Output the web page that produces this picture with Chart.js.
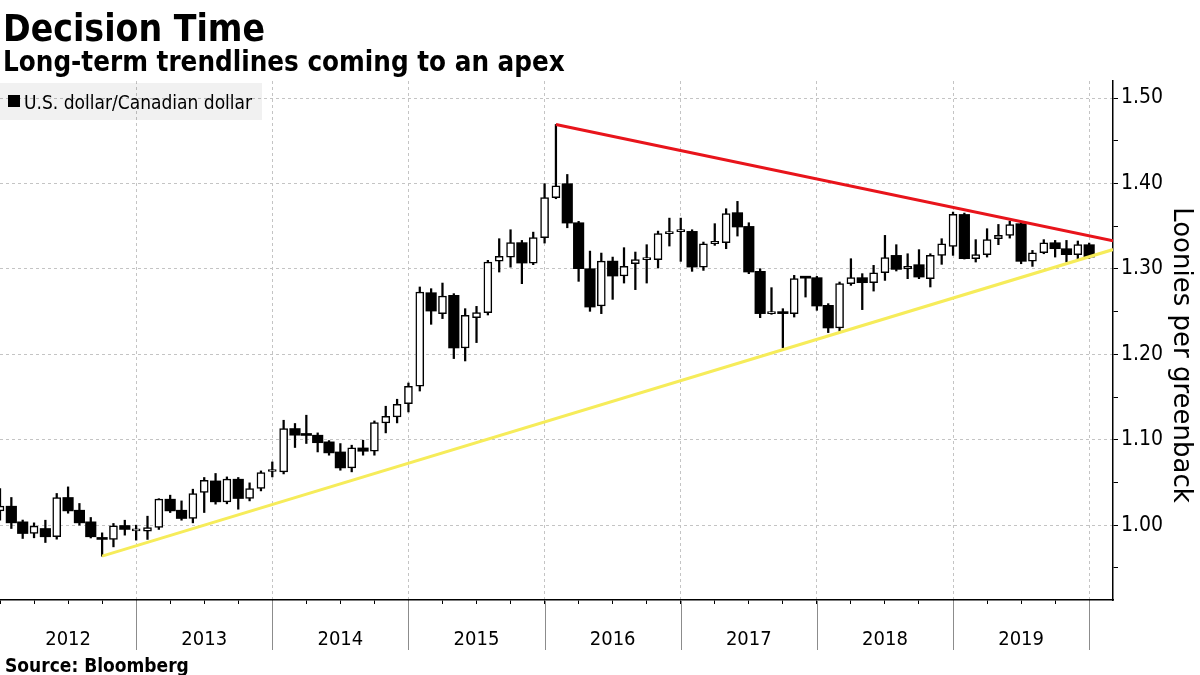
<!DOCTYPE html>
<html>
<head>
<meta charset="utf-8">
<script src="https://cdn.jsdelivr.net/npm/chart.js@4.4.1/dist/chart.umd.min.js"></script>
<style>
  html, body { margin: 0; padding: 0; background: #fff; }
  #wrap { position: relative; width: 1200px; height: 675px; overflow: hidden; background: #fff; }
  #chart { position: absolute; left: 0; top: 0; }
  .txt { position: absolute; white-space: nowrap; color: #000; line-height: 1; }
  #title { left: 3px; top: 7px; font: bold 37px 'DejaVu Sans Condensed', 'DejaVu Sans', sans-serif; font-stretch: condensed; }
  #subtitle { left: 3px; top: 45px; font: bold 27.5px 'DejaVu Sans Condensed', 'DejaVu Sans', sans-serif; font-stretch: condensed; }
  #legend { position: absolute; left: 0; top: 83px; width: 262px; height: 37px; background: rgba(0,0,0,0.055); }
  #legend .sw { position: absolute; left: 8px; top: 12px; width: 12px; height: 12px; background: #000; }
  #legend .lt { left: 24px; top: 8px; font: 19px 'DejaVu Sans Condensed', 'DejaVu Sans', sans-serif; font-stretch: condensed; }
  #ytitle { position: absolute; left: 1170px; top: 355px; transform: translateY(-50%); writing-mode: vertical-rl; font: 26px 'DejaVu Sans', sans-serif; line-height: 26px; white-space: nowrap; color: #000; }
  #source { left: 5px; top: 654px; font: bold 19px 'DejaVu Sans Condensed', 'DejaVu Sans', sans-serif; font-stretch: condensed; }
</style>
</head>
<body>
<div id="wrap">
  <canvas id="chart" width="1200" height="675"></canvas>
  <div class="txt" id="title">Decision Time</div>
  <div class="txt" id="subtitle">Long-term trendlines coming to an apex</div>
  <div id="legend"><div class="sw"></div><div class="txt lt">U.S. dollar/Canadian dollar</div></div>
  <div id="ytitle">Loonies per greenback</div>
  <div class="txt" id="source">Source: Bloomberg</div>
</div>
<script>
// Monthly candles (month-end placement), Dec 2011 .. Dec 2019
const months = [
  '2011-12',
  '2012-01','2012-02','2012-03','2012-04','2012-05','2012-06','2012-07','2012-08','2012-09','2012-10','2012-11','2012-12',
  '2013-01','2013-02','2013-03','2013-04','2013-05','2013-06','2013-07','2013-08','2013-09','2013-10','2013-11','2013-12',
  '2014-01','2014-02','2014-03','2014-04','2014-05','2014-06','2014-07','2014-08','2014-09','2014-10','2014-11','2014-12',
  '2015-01','2015-02','2015-03','2015-04','2015-05','2015-06','2015-07','2015-08','2015-09','2015-10','2015-11','2015-12',
  '2016-01','2016-02','2016-03','2016-04','2016-05','2016-06','2016-07','2016-08','2016-09','2016-10','2016-11','2016-12',
  '2017-01','2017-02','2017-03','2017-04','2017-05','2017-06','2017-07','2017-08','2017-09','2017-10','2017-11','2017-12',
  '2018-01','2018-02','2018-03','2018-04','2018-05','2018-06','2018-07','2018-08','2018-09','2018-10','2018-11','2018-12',
  '2019-01','2019-02','2019-03','2019-04','2019-05','2019-06','2019-07','2019-08','2019-09','2019-10','2019-11','2019-12'
];
const open = [
  1.0167,
  1.0222,1.0039,0.9902,0.9961,0.9864,1.0324,1.0175,1.0039,0.9856,0.9833,0.9996,0.9934,
  0.9930,0.9973,1.0304,1.0175,1.0078,1.0382,1.0518,1.0273,1.0538,1.0312,1.0429,1.0628,
  1.0624,1.1131,1.1056,1.1053,1.0975,1.0857,1.0670,1.0904,1.0865,1.1196,1.1267,1.1423,
  1.1626,1.2721,1.2476,1.2690,1.2074,1.2429,1.2488,1.3091,1.3138,1.3307,1.3068,1.3365,
  1.3833,1.3997,1.3540,1.3002,1.2565,1.3091,1.2916,1.3061,1.3108,1.3108,1.3412,1.3435,
  1.3439,1.3021,1.3294,1.3306,1.3658,1.3497,1.2971,1.2476,1.2480,1.2476,1.2897,1.2897,
  1.2573,1.2308,1.2827,1.2897,1.2838,1.2955,1.3158,1.2998,1.3049,1.2885,1.3158,1.3263,
  1.3637,1.3119,1.3166,1.3353,1.3392,1.3529,1.3091,1.3189,1.3306,1.3236,1.3166,1.3283
];
const high = [
  1.0429,
  1.0324,1.0060,1.0027,1.0058,1.0371,1.0448,1.0254,1.0090,0.9910,1.0020,1.0058,1.0000,
  1.0105,1.0310,1.0351,1.0284,1.0421,1.0558,1.0605,1.0565,1.0558,1.0495,1.0635,1.0740,
  1.1228,1.1190,1.1287,1.1080,1.0990,1.0955,1.0936,1.0994,1.1220,1.1392,1.1474,1.1664,
  1.2788,1.2768,1.2834,1.2710,1.2534,1.2561,1.3100,1.3353,1.3458,1.3333,1.3430,1.3997,
  1.4690,1.4105,1.3556,1.3208,1.3185,1.3138,1.3248,1.3197,1.3283,1.3442,1.3594,1.3594,
  1.3458,1.3314,1.3529,1.3704,1.3790,1.3540,1.3002,1.2780,1.2534,1.2924,1.2912,1.2912,
  1.2593,1.2846,1.3119,1.2944,1.3041,1.3392,1.3283,1.3177,1.3225,1.3177,1.3353,1.3665,
  1.3653,1.3342,1.3470,1.3520,1.3559,1.3547,1.3216,1.3342,1.3333,1.3333,1.3326,1.3302
];
const low = [
  1.0058,
  0.9961,0.9844,0.9852,0.9797,0.9836,1.0140,1.0000,0.9850,0.9637,0.9746,0.9883,0.9825,
  0.9833,0.9950,1.0148,1.0058,1.0027,1.0148,1.0246,1.0250,1.0187,1.0284,1.0401,1.0565,
  1.0600,1.0909,1.0956,1.0857,1.0819,1.0643,1.0624,1.0819,1.0819,1.1080,1.1197,1.1325,
  1.1570,1.2351,1.2418,1.1950,1.1922,1.2137,1.2460,1.2963,1.3020,1.2827,1.3049,1.3302,
  1.3821,1.3481,1.2854,1.2503,1.2476,1.2643,1.2834,1.2757,1.2834,1.3010,1.3267,1.3088,
  1.2971,1.2982,1.3275,1.3236,1.3384,1.2944,1.2429,1.2468,1.2078,1.2436,1.2670,1.2515,
  1.2254,1.2269,1.2807,1.2523,1.2740,1.2865,1.2975,1.2885,1.2885,1.2788,1.3053,1.3158,
  1.3115,1.3080,1.3138,1.3283,1.3360,1.3060,1.3029,1.3177,1.3138,1.3080,1.3119,1.3123
];
const close = [
  1.0222,
  1.0027,0.9902,0.9988,0.9864,1.0324,1.0167,1.0027,0.9864,0.9833,0.9992,0.9950,0.9938,
  0.9973,1.0304,1.0167,1.0078,1.0371,1.0526,1.0273,1.0538,1.0312,1.0429,1.0616,1.0632,
  1.1131,1.1053,1.1050,1.0965,1.0846,1.0670,1.0904,1.0865,1.1201,1.1275,1.1415,1.1626,
  1.2729,1.2506,1.2682,1.2074,1.2456,1.2488,1.3080,1.3146,1.3307,1.3068,1.3365,1.3833,
  1.3973,1.3536,1.3002,1.2553,1.3091,1.2916,1.3029,1.3108,1.3116,1.3412,1.3435,1.3439,
  1.3021,1.3294,1.3322,1.3646,1.3490,1.2963,1.2476,1.2480,1.2476,1.2885,1.2891,1.2565,
  1.2308,1.2827,1.2897,1.2838,1.2955,1.3131,1.2994,1.3029,1.2904,1.3158,1.3294,1.3637,
  1.3119,1.3166,1.3342,1.3392,1.3517,1.3088,1.3189,1.3306,1.3236,1.3166,1.3283,1.3138
];
// Year labels shown between year separators
const yearLabels = ['2012','2013','2014','2015','2016','2017','2018','2019'];
// Trendlines: x in months since Dec 2011 month-end, y in CAD per USD
const resistanceX = [49, 98.1];
const resistanceY = [1.469, 1.3330];
const supportX = [9, 98.1];
const supportY = [0.9637, 1.3226];

const wickData = months.map((m, i) => ({ x: i, y: [low[i], high[i]] }));
const downData = [];
const upData = [];
months.forEach((m, i) => {
  if (close[i] < open[i]) downData.push({ x: i, y: [close[i], open[i]] });
  else upData.push({ x: i, y: [open[i], close[i]] });
});
const resistanceData = resistanceX.map((x, i) => ({ x, y: resistanceY[i] }));
const supportData = supportX.map((x, i) => ({ x, y: supportY[i] }));

const yearSeparators = {
  id: 'yearSeparators',
  afterDraw(chart) {
    const xs = chart.scales.x;
    const ctx = chart.ctx;
    const top = chart.chartArea.bottom;
    ctx.save();
    ctx.strokeStyle = '#8c8c8c';
    ctx.lineWidth = 1;
    for (let k = 1; k <= yearLabels.length; k++) {
      const px = Math.round(xs.getPixelForValue(12 * k)) + 0.5;
      ctx.beginPath();
      ctx.moveTo(px, top + 1);
      ctx.lineTo(px, 650);
      ctx.stroke();
    }
    ctx.restore();
  }
};

const condensed = "'DejaVu Sans Condensed', 'DejaVu Sans', sans-serif";

new Chart(document.getElementById('chart'), {
  type: 'bar',
  data: {
    datasets: [
      { type: 'line', label: 'Resistance', data: resistanceData, borderColor: '#e8141b', borderWidth: 3, pointRadius: 0, order: 0 },
      { type: 'line', label: 'Support', data: supportData, borderColor: '#f6ec5a', borderWidth: 3, pointRadius: 0, order: 0 },
      { label: 'Up', data: upData, backgroundColor: '#ffffff', borderColor: '#000000', borderWidth: 1.5, borderSkipped: false, barThickness: 8, grouped: false, minBarLength: 2, order: 1 },
      { label: 'Down', data: downData, backgroundColor: '#000000', borderWidth: 0, barThickness: 10.5, grouped: false, minBarLength: 2, order: 2 },
      { label: 'Wick', data: wickData, backgroundColor: '#000000', borderWidth: 0, barThickness: 1.6, grouped: false, order: 3 }
    ]
  },
  options: {
    responsive: false,
    animation: false,
    devicePixelRatio: 1,
    layout: { autoPadding: false, padding: { top: 81, left: 0, right: 0, bottom: 0 } },
    plugins: { legend: { display: false }, tooltip: { enabled: false }, title: { display: false } },
    scales: {
      x: {
        type: 'linear',
        position: 'bottom',
        offset: false,
        min: 0,
        max: 98.1,
        afterFit: (s) => { s.height = 75; s.paddingLeft = 0; s.paddingRight = 0; },
        ticks: {
          stepSize: 3,
          includeBounds: false,
          autoSkip: false,
          maxRotation: 0,
          padding: 24,
          color: '#000',
          font: { family: condensed, size: 20 },
          callback: (v) => (v % 12 === 6 ? yearLabels[(v - 6) / 12] : '')
        },
        grid: {
          offset: false,
          drawOnChartArea: true,
          color: (c) => (c.tick && c.tick.value % 12 === 0 && c.tick.value > 0) ? '#c4c4c4' : 'rgba(0,0,0,0)',
          lineWidth: 1,
          tickColor: '#000',
          tickLength: 4,
          tickWidth: 1,
          tickBorderDash: []
        },
        border: { display: true, color: '#000', width: 1.5, dash: [3, 3] }
      },
      y: {
        type: 'linear',
        position: 'right',
        min: 0.9124,
        max: 1.5199,
        afterFit: (s) => { s.width = 87; },
        ticks: {
          stepSize: 0.05,
          includeBounds: false,
          autoSkip: false,
          padding: 3,
          color: '#000',
          font: { family: condensed, size: 21 },
          callback: (v) => (Math.round(v * 100) % 10 === 0 ? Number(v).toFixed(2) : '')
        },
        grid: {
          drawOnChartArea: true,
          color: (c) => (c.tick && Math.round(c.tick.value * 100) % 10 === 0) ? '#c4c4c4' : 'rgba(0,0,0,0)',
          lineWidth: 1,
          tickColor: '#000',
          tickLength: 5,
          tickWidth: 1,
          tickBorderDash: []
        },
        border: { display: true, color: '#000', width: 1.5, dash: [3, 3] }
      }
    }
  },
  plugins: [yearSeparators]
});
</script>
</body>
</html>
